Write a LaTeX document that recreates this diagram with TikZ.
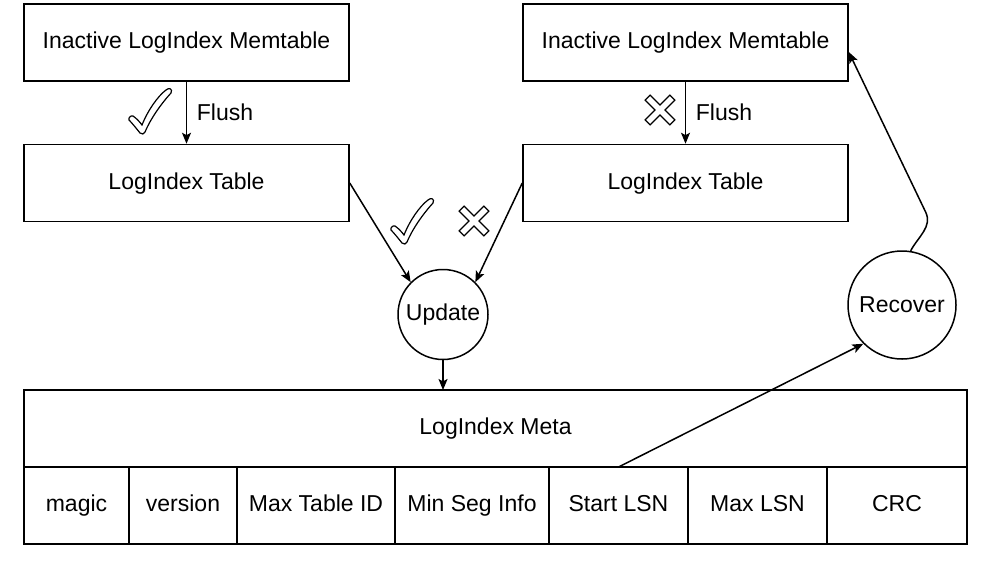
\documentclass[tikz,border=0pt]{standalone}
\usepackage{fontspec}
\setmainfont{Liberation Sans}
\usetikzlibrary{
    arrows.meta,
    positioning
}
\definecolor{ink}{RGB}{0,0,0}
\definecolor{boxfill}{RGB}{255,255,255}
\tikzset{
    line cap=round,
    line join=round,
    box/.style={
        rectangle,
        draw=ink,
        line width=0.75pt,
        fill=boxfill,
        text=ink,
        minimum width=162.5pt,
        minimum height=38.5pt,
        inner sep=0pt,
        text height=8.4pt,
        text depth=2.4pt
    },
    metacell/.style={
        box,
        outer sep=0pt,
        minimum height=38.5pt
    },
    stage/.style={
        circle,
        draw=ink,
        line width=0.75pt,
        fill=boxfill,
        text=ink,
        inner sep=0pt
    },
    flow/.style={
        -{Stealth[length=5.5pt, width=4.5pt, inset=1.2pt]},
        draw=ink,
        line width=0.75pt
    },
    annot/.style={
        text=ink
    },
    tick/.pic={
        \draw[fill=boxfill, draw=ink, line width=0.6pt]
            (-10,23) .. controls (-14,18) and (-18,13) .. (-21,10)
            .. controls (-22,8) and (-19,5) .. (-17,6)
            .. controls (-14,8) and (-11,11) .. (-8,15)
            .. controls (-2,0) and (8,-14) .. (16,-20)
            .. controls (19,-23) and (23,-21) .. (21,-17)
            .. controls (10,-5) and (0,10) .. (-5,22)
            .. controls (-6,24) and (-8,25) .. (-10,23) -- cycle;
    },
    cross/.pic={
        \draw[rotate=45, fill=boxfill, draw=ink, line width=0.6pt]
            (3.5,3.5) -- (17.5,3.5) -- (17.5,-3.5) -- (3.5,-3.5)
            -- (3.5,-17.5) -- (-3.5,-17.5) -- (-3.5,-3.5) -- (-17.5,-3.5)
            -- (-17.5,3.5) -- (-3.5,3.5) -- (-3.5,17.5) -- (3.5,17.5) -- cycle;
    }
}

\begin{document}
\begin{tikzpicture}[
    x=0.5pt, y=-0.5pt,
    every node/.style={font=\fontsize{11.5}{13.8}\selectfont}
]
\useasboundingbox (0,0) rectangle (983,563);

% Left: flushed branch
\node[box] (memL) at (186.5,42.5) {Inactive LogIndex Memtable};
\node[box, below=31pt of memL] (tabL) {LogIndex Table};
\draw[flow] (memL) -- node[midway, right=1.5pt, annot] {Flush} (tabL);
\pic at (150,110) {tick};

% Right: failed branch
\node[box] (memR) at (685.5,42.5) {Inactive LogIndex Memtable};
\node[box, below=31pt of memR] (tabR) {LogIndex Table};
\draw[flow] (memR) -- node[midway, right=1.5pt, annot] {Flush} (tabR);
\pic at (660,110) {cross};

% Update and recover
\node[stage, minimum size=45pt] (upd) at (443,314.5) {Update};
\node[stage, minimum size=54pt] (rec) at (902,305) {Recover};

\draw[flow] (tabL.east) -- (upd.135);
\draw[flow] (tabR.west) -- (upd.45);
\pic at (412,220) {tick};
\pic at (474,221) {cross};

% Meta record
\node[box, outer sep=0pt, minimum width=471.5pt] (meta) at (495.5,428.5) {LogIndex Meta};
\node[metacell, anchor=north west, minimum width=52.5pt] (magic) at (meta.south west) {magic};
\node[metacell, right=0pt of magic, minimum width=54pt] (version) {version};
\node[metacell, right=0pt of version, minimum width=79pt] (tableid) {Max Table ID};
\node[metacell, right=0pt of tableid, minimum width=77pt] (seginfo) {Min Seg Info};
\node[metacell, right=0pt of seginfo, minimum width=69.5pt] (startlsn) {Start LSN};
\node[metacell, right=0pt of startlsn, minimum width=69.5pt] (maxlsn) {Max LSN};
\node[metacell, right=0pt of maxlsn, minimum width=70pt] (crc) {CRC};

\draw[flow] (upd.south) -- (upd.south |- meta.north);
\draw[flow] (startlsn.north) -- (rec.225);

% Recover back to memtable
\coordinate (bendR) at (925.6,212);
\draw[flow] (rec.81) to[out=62, in=-64.4] (bendR) -- ([yshift=-4.75pt]memR.east);

\end{tikzpicture}
\end{document}
